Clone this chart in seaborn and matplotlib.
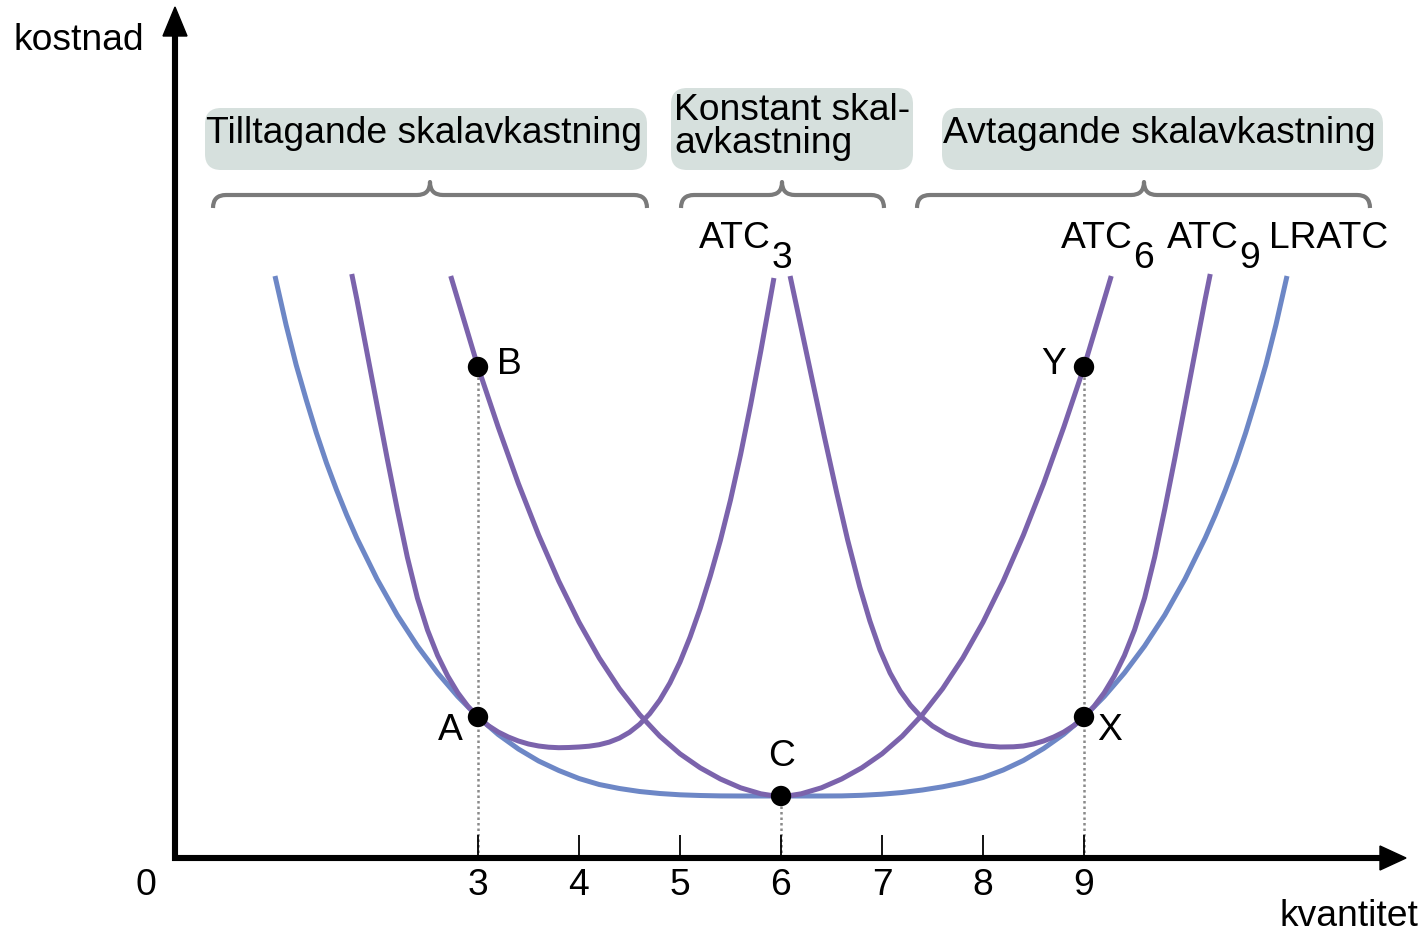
import numpy as np
import pandas as pd
import matplotlib
matplotlib.use("Agg")
import matplotlib.pyplot as plt
from matplotlib.patches import FancyBboxPatch, Polygon, PathPatch
from matplotlib.path import Path
import seaborn as sns

# ---- data: quantity (q) and average cost (c) along each cost curve ----
lratc_q = [0.99, 1.10, 1.20, 1.30, 1.40, 1.50, 1.60, 1.70, 1.80, 2.00, 2.20, 2.40, 2.60,
           2.80, 3.00, 3.20, 3.40, 3.60, 3.80, 4.00, 4.20, 4.40, 4.60, 4.80, 5.00, 5.20,
           5.40, 5.60, 6.00, 6.40, 6.60, 6.80, 7.00, 7.20, 7.40, 7.60, 7.80, 8.00, 8.20,
           8.40, 8.60, 8.80, 9.00, 9.20, 9.40, 9.60, 9.80, 10.00, 10.20, 10.30, 10.40,
           10.50, 10.60, 10.70, 10.80, 10.90, 11.01]
lratc_c = [5.82, 5.33, 4.93, 4.58, 4.25, 3.95, 3.68, 3.43, 3.20, 2.79, 2.43, 2.12, 1.85,
           1.615, 1.41, 1.235, 1.09, 0.97, 0.875, 0.795, 0.735, 0.695, 0.665, 0.645, 0.632,
           0.625, 0.621, 0.62, 0.62, 0.62, 0.621, 0.627, 0.638, 0.655, 0.68, 0.712, 0.752,
           0.805, 0.88, 0.975, 1.095, 1.238, 1.41, 1.615, 1.85, 2.12, 2.43, 2.79, 3.20,
           3.43, 3.68, 3.95, 4.25, 4.58, 4.93, 5.33, 5.82]

atc3_q = [1.75, 1.80, 1.90, 2.00, 2.10, 2.20, 2.30, 2.40, 2.50, 2.60, 2.70, 2.80, 2.90,
          3.00, 3.10, 3.20, 3.30, 3.40, 3.50, 3.60, 3.70, 3.80, 3.90, 4.00, 4.10, 4.20,
          4.30, 4.40, 4.50, 4.60, 4.70, 4.80, 4.90, 5.00, 5.10, 5.20, 5.30, 5.40, 5.50,
          5.60, 5.70, 5.80, 5.90, 5.93]
atc3_c = [5.84, 5.59, 5.06, 4.53, 4.00, 3.49, 3.01, 2.60, 2.28, 2.025, 1.82, 1.652, 1.517,
          1.41, 1.325, 1.26, 1.21, 1.17, 1.14, 1.12, 1.108, 1.103, 1.105, 1.11, 1.118,
          1.133, 1.159, 1.199, 1.257, 1.337, 1.443, 1.579, 1.75, 1.96, 2.21, 2.497, 2.82,
          3.177, 3.58, 4.035, 4.535, 5.07, 5.63, 5.80]

atc6_q = [2.73, 2.80, 3.00, 3.20, 3.40, 3.60, 3.80, 4.00, 4.20, 4.40, 4.60, 4.80, 5.00,
          5.20, 5.40, 5.60, 5.80, 5.90, 6.00, 6.10, 6.20, 6.40, 6.60, 6.80, 7.00, 7.20,
          7.40, 7.60, 7.80, 8.00, 8.20, 8.40, 8.60, 8.80, 9.00, 9.20, 9.27]
atc6_c = [5.82, 5.584, 4.91, 4.309, 3.744, 3.23, 2.768, 2.358, 2.0, 1.693, 1.434, 1.218,
          1.042, 0.902, 0.79, 0.702, 0.642, 0.626, 0.62, 0.626, 0.642, 0.702, 0.79, 0.902,
          1.042, 1.218, 1.434, 1.693, 2.0, 2.358, 2.768, 3.23, 3.744, 4.309, 4.91, 5.584,
          5.82]

atc9_q = [6.09, 6.20, 6.32, 6.43, 6.55, 6.66, 6.78, 6.88, 6.98, 7.08, 7.18, 7.28, 7.38,
          7.50, 7.64, 7.77, 7.90, 8.03, 8.17, 8.30, 8.40, 8.50, 8.60, 8.70, 8.80, 8.90,
          9.00, 9.10, 9.20, 9.30, 9.40, 9.50, 9.60, 9.70, 9.80, 9.90, 10.00, 10.10,
          10.20, 10.25]
atc9_c = [5.82, 5.30, 4.73, 4.21, 3.66, 3.18, 2.71, 2.37, 2.08, 1.85, 1.67, 1.53, 1.42,
          1.32, 1.235, 1.18, 1.14, 1.12, 1.11, 1.112, 1.12, 1.14, 1.17, 1.21, 1.26, 1.325,
          1.41, 1.517, 1.652, 1.82, 2.025, 2.28, 2.60, 3.01, 3.49, 4.00, 4.53, 5.06, 5.59,
          5.84]

# marked points
point_names = ["A", "B", "C", "X", "Y"]
point_q = [3, 3, 6, 9, 9]
point_c = [1.41, 4.91, 0.62, 1.41, 4.91]

tick_values = [3, 4, 5, 6, 7, 8, 9]
tick_labels = ["3", "4", "5", "6", "7", "8", "9"]

curve_names = [("ATC", "3"), ("ATC", "6"), ("ATC", "9"), ("LRATC", "")]

# ---- styling ----
sns.set_theme(style="white")
plt.rcParams["font.family"] = ["Liberation Sans", "DejaVu Sans"]
plt.rcParams["text.color"] = "black"
FS = 26.8
PURPLE = "#7b63ac"
BLUE = "#6d87c6"
BOX = "#d6e0dd"
BRACE = "#7a7a7a"


# pixel -> data helpers for layout items (1 unit = 101 px across, 100 px up)
def gx(p):
    return (p - 175) / 101


def gy(p):
    return (858 - p) / 100


fig = plt.figure(figsize=(14.24, 9.32), dpi=100)
ax = fig.add_axes([0, 0, 1, 1])
ax.set_xlim(gx(0), gx(1424))
ax.set_ylim(gy(932), gy(0))
ax.axis("off")

# cost curves
curves = pd.concat([
    pd.DataFrame({"q": lratc_q, "c": lratc_c, "curve": "LRATC"}),
    pd.DataFrame({"q": atc3_q, "c": atc3_c, "curve": "ATC3"}),
    pd.DataFrame({"q": atc6_q, "c": atc6_c, "curve": "ATC6"}),
    pd.DataFrame({"q": atc9_q, "c": atc9_c, "curve": "ATC9"}),
])
sns.lineplot(data=curves, x="q", y="c", hue="curve", estimator=None, sort=True,
             palette={"LRATC": BLUE, "ATC3": PURPLE, "ATC6": PURPLE, "ATC9": PURPLE},
             hue_order=["LRATC", "ATC3", "ATC9", "ATC6"],
             linewidth=3.6, legend=False, ax=ax, zorder=3)
for ln in ax.lines:
    ln.set_solid_capstyle("butt")
    ln.set_solid_joinstyle("round")

# dotted guides from the marked points down to the quantity axis
pts = pd.DataFrame({"q": point_q, "c": point_c, "name": point_names})
tops = pts.groupby("q")["c"].max()
ax.vlines(tops.index, 0, tops.values, colors="#8a8a8a", linestyles=(0, (1, 1.2)),
          linewidth=1.8, zorder=2)

sns.scatterplot(data=pts, x="q", y="c", color="black", s=215, edgecolor="none",
                ax=ax, zorder=5, legend=False)

# point labels
label_pos = {"A": (450, 740, "center"), "B": (497, 374, "left"), "C": (782, 766, "center"),
             "X": (1097, 740, "left"), "Y": (1054, 374, "center")}
for name in point_names:
    xp, yp, ha = label_pos[name]
    ax.text(gx(xp), gy(yp), name, fontsize=FS, ha=ha, va="baseline")

# axes with arrowheads
ax.plot([gx(172), gx(1385)], [0, 0], color="black", lw=4.4, solid_capstyle="butt", zorder=4)
ax.plot([0, 0], [gy(861), gy(30)], color="black", lw=4.4, solid_capstyle="butt", zorder=4)
ax.add_patch(Polygon([(gx(1406), 0), (gx(1380), gy(846)), (gx(1380), gy(870))],
                     closed=True, color="black", zorder=4))
ax.add_patch(Polygon([(0, gy(7)), (gx(163), gy(36)), (gx(187), gy(36))],
                     closed=True, color="black", zorder=4))

# tick marks and labels
ax.vlines(tick_values, 0, gy(835), colors="black", linewidth=1.3, zorder=4)
for v, t in zip(tick_values, tick_labels):
    ax.text(v, gy(895), t, fontsize=FS, ha="center", va="baseline")
ax.text(gx(146), gy(895), "0", fontsize=FS, ha="center", va="baseline")
ax.text(gx(14), gy(50), "kostnad", fontsize=FS, ha="left", va="baseline")
ax.text(gx(1418), gy(926), "kvantitet", fontsize=FS, ha="right", va="baseline")

# curve names; the index is set at full size and lowered
name_x = [699, 1061, 1167, 1269]
for xp, (main, sub) in zip(name_x, curve_names):
    t = ax.text(gx(xp), gy(248), main, fontsize=FS, ha="left", va="baseline")
    if sub:
        ax.annotate(sub, xy=(1, 0), xycoords=t, xytext=(0.5, -14.4),
                    textcoords="offset points", fontsize=FS, ha="left", va="bottom")

# region boxes with their texts
boxes = [(205, 647, 108, 170), (671, 913, 88, 170), (942, 1383, 108, 170)]
box_lines = [[("Tilltagande skalavkastning", 206, 143)],
             [("Konstant skal-", 674, 120), ("avkastning", 674, 153)],
             [("Avtagande skalavkastning", 943, 143)]]
for (x0, x1, y0, y1), lines in zip(boxes, box_lines):
    ax.add_patch(FancyBboxPatch((gx(x0), gy(y1)), gx(x1) - gx(x0), gy(y0) - gy(y1),
                                boxstyle="round,pad=0,rounding_size=0.16",
                                facecolor=BOX, edgecolor="none", zorder=1))
    for txt, tx, ty in lines:
        ax.text(gx(tx), gy(ty), txt, fontsize=FS, ha="left", va="baseline", zorder=2)


# curly braces under the boxes
def brace(x0, x1, xc, yb=208, yh=195, yt=182, r=13):
    verts = [(x0, yb), (x0, yh), (x0 + r, yh),
             (xc - r, yh), (xc, yh), (xc, yt),
             (xc, yh), (xc + r, yh),
             (x1 - r, yh), (x1, yh), (x1, yb)]
    codes = [Path.MOVETO, Path.CURVE3, Path.CURVE3,
             Path.LINETO, Path.CURVE3, Path.CURVE3,
             Path.CURVE3, Path.CURVE3,
             Path.LINETO, Path.CURVE3, Path.CURVE3]
    verts = [(gx(a), gy(b)) for a, b in verts]
    ax.add_patch(PathPatch(Path(verts, codes), facecolor="none", edgecolor=BRACE,
                           lw=3.0, capstyle="butt", joinstyle="round", zorder=2))


brace(213, 647, 430)
brace(681, 884, 782)
brace(917, 1370, 1144)

fig.savefig("out.png", dpi=100)
